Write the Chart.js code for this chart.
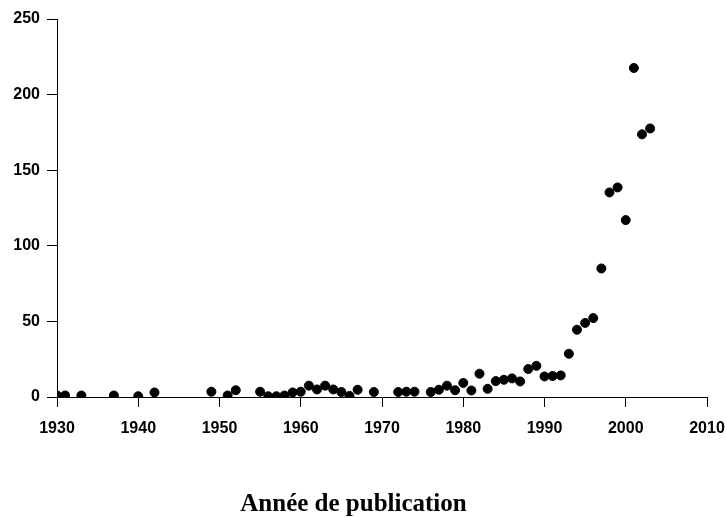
<!DOCTYPE html>
<html>
<head>
<meta charset="utf-8">
<script src="https://cdn.jsdelivr.net/npm/chart.js@4"></script>
<style>
  html, body { margin: 0; padding: 0; background: #ffffff; }
  #wrap { width: 727px; height: 517px; }
</style>
</head>
<body>
<div id="wrap"><canvas id="chart" width="727" height="517"></canvas></div>
<script>
// publications per year
const years = [1930, 1931, 1933, 1937, 1940, 1942, 1949, 1951, 1952, 1955,
  1956, 1957, 1958, 1959, 1960, 1961, 1962, 1963, 1964, 1965,
  1966, 1967, 1969, 1972, 1973, 1974, 1976, 1977, 1978, 1979,
  1980, 1981, 1982, 1983, 1984, 1985, 1986, 1987, 1988, 1989,
  1990, 1991, 1992, 1993, 1994, 1995, 1996, 1997, 1998, 1999,
  2000, 2001, 2002, 2003];
const counts = [1, 1, 1, 1, 0.5, 3, 3.5, 1, 4.5, 3.5,
  0.5, 0.5, 1, 3, 3.5, 7.5, 5, 7.5, 5, 3.3,
  0.7, 4.8, 3.3, 3.3, 3.5, 3.5, 3.3, 4.8, 7.5, 4.5,
  9.3, 4.3, 15.4, 5.4, 10.5, 11.4, 12.3, 10.3, 18.5, 20.6,
  13.6, 13.9, 14.3, 28.6, 44.5, 49, 52.2, 85, 135.3, 138.6,
  117, 217.6, 173.7, 177.6];

const xTicks = [1930, 1940, 1950, 1960, 1970, 1980, 1990, 2000, 2010];
const yTicks = [0, 50, 100, 150, 200, 250];

const points = years.map((y, i) => ({ x: y, y: counts[i] }));

new Chart(document.getElementById("chart"), {
  type: "scatter",
  data: {
    datasets: [
      {
        data: points,
        backgroundColor: "#000000",
        borderColor: "#000000",
        borderWidth: 1,
        pointRadius: 4.5,
      },
    ],
  },
  options: {
    responsive: false,
    animation: false,
    layout: { padding: { left: 0, right: 20, top: 19, bottom: 0 } },
    plugins: {
      legend: { display: false },
      tooltip: { enabled: false },
      title: {
        display: true,
        position: "bottom",
        text: "Année de publication",
        color: "#000000",
        font: { family: "Liberation Serif", size: 25, weight: "bold", lineHeight: 1 },
        padding: { top: 35, bottom: 0 },
      },
    },
    scales: {
      x: {
        type: "linear",
        min: xTicks[0],
        max: xTicks[xTicks.length - 1],
        afterFit: (scale) => {
          scale.height = 60;
          // keep the plot reaching 2010 like the original
          scale.paddingLeft = 0;
          scale.paddingRight = 0;
        },
        afterBuildTicks: (scale) => { scale.ticks = xTicks.map((v) => ({ value: v })); },
        grid: { display: true, drawOnChartArea: false, drawTicks: true, tickLength: 10, tickColor: "#000000" },
        border: { display: true, color: "#000000", width: 1 },
        ticks: {
          color: "#000000",
          padding: 12,
          maxRotation: 0,
          font: { family: "Liberation Sans", size: 16, weight: "bold" },
          callback: (v) => String(v),
        },
      },
      y: {
        min: yTicks[0],
        max: yTicks[yTicks.length - 1],
        afterFit: (scale) => { scale.width = 57; },
        afterBuildTicks: (scale) => { scale.ticks = yTicks.map((v) => ({ value: v })); },
        grid: { display: true, drawOnChartArea: false, drawTicks: true, tickLength: 10, tickColor: "#000000" },
        border: { display: true, color: "#000000", width: 1 },
        ticks: {
          color: "#000000",
          padding: 7,
          font: { family: "Liberation Sans", size: 16, weight: "bold" },
        },
      },
    },
  },
});
</script>
</body>
</html>
